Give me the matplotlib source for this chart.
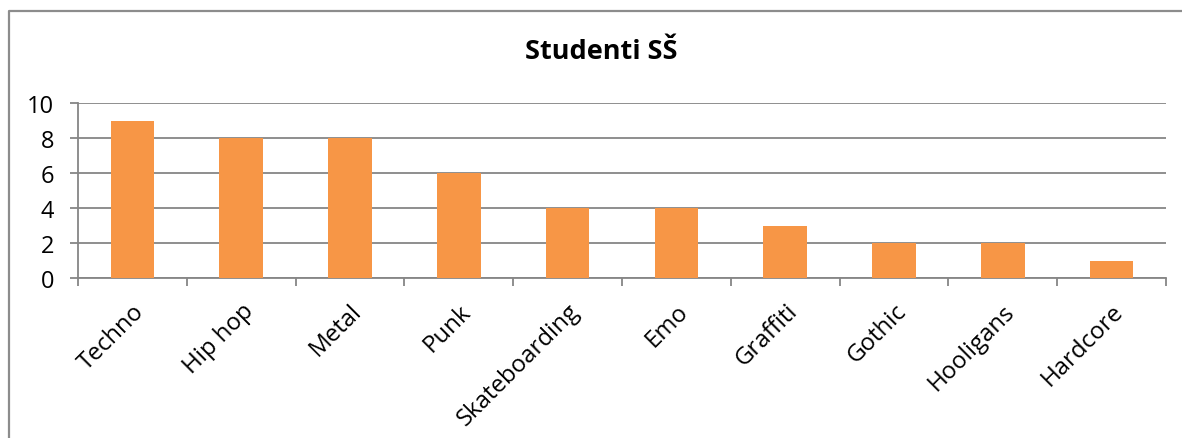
import matplotlib
matplotlib.use("Agg")
import matplotlib.pyplot as plt
from matplotlib.lines import Line2D

categories = ["Techno", "Hip hop", "Metal", "Punk", "Skateboarding",
              "Emo", "Graffiti", "Gothic", "Hooligans", "Hardcore"]
counts = [9, 8, 8, 6, 4, 4, 3, 2, 2, 1]
y_ticks = [0, 2, 4, 6, 8, 10]

plt.rcParams["font.family"] = ["Open Sans", "DejaVu Sans"]
grey = "#868686"

fig = plt.figure(figsize=(11.82, 4.39), dpi=100)
ax = fig.add_axes([78 / 1182, 1 - 279 / 439, 1088 / 1182, 175 / 439])

x = list(range(len(categories)))
ax.bar(x, counts, width=0.4, color="#F79646", zorder=3)

ax.set_xlim(-0.5, len(categories) - 0.5)
ax.set_ylim(0, 10)
ax.set_yticks(y_ticks)
ax.yaxis.grid(True, color=grey, linewidth=1.3, zorder=0)

# category ticks sit between the bars, labels under bar centres
ax.set_xticks([i - 0.5 for i in range(len(categories) + 1)])
ax.set_xticklabels([])
ax.tick_params(axis="x", which="major", length=6, width=1.3, color=grey)
ax.set_xticks(x, minor=True)
ax.set_xticklabels(categories, minor=True, rotation=45, ha="right", va="top",
                   rotation_mode="anchor", fontsize=17.3)
ax.tick_params(axis="x", which="minor", length=0, pad=15)
ax.tick_params(axis="y", length=6, width=1.3, color=grey, labelsize=17, pad=11)

for side in ("top", "right"):
    ax.spines[side].set_visible(False)
for side in ("left", "bottom"):
    ax.spines[side].set_color(grey)
    ax.spines[side].set_linewidth(1.3)

fig.text(601 / 1182, 1 - 52 / 439, "Studenti SŠ", ha="center", va="center",
         fontsize=19.5, fontweight="bold")

# chart frame
fx = 8.5 / 1182
fy = 1 - 11.5 / 439
fig.add_artist(Line2D([fx, fx, 1], [0, fy, fy], transform=fig.transFigure,
                      color="#8c8c8c", linewidth=1.6))

fig.savefig("out.png", dpi=100)
